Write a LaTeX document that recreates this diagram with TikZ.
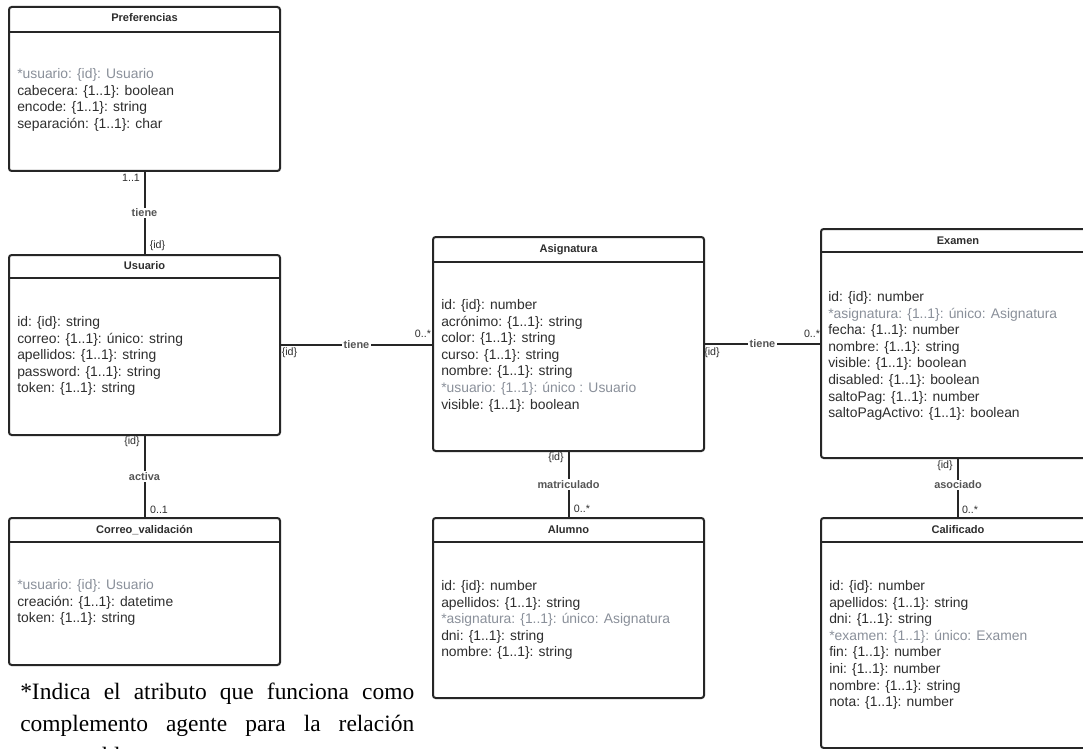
\documentclass[tikz,border=0pt]{standalone}
\usepackage{fontspec}
\setmainfont{Liberation Serif}
\setsansfont{Liberation Sans}
\usetikzlibrary{fit}
\definecolor{txt}{HTML}{2E2E2E}
\definecolor{gry}{HTML}{8A909A}
\definecolor{bord}{HTML}{262626}
\definecolor{lblc}{HTML}{555555}
\tikzset{
 cls/.style={draw=bord, line width=1.5pt, rounded corners=2pt, inner sep=0pt, outer sep=0pt, fill=white},
 hdr/.style={draw=bord, line width=1.5pt},
 ttl/.style={font=\sffamily\bfseries\fontsize{8.3}{10}\selectfont, text=txt, inner sep=0pt, anchor=base},
 attr/.style={font=\sffamily\fontsize{10.4}{12.5}\selectfont, text=txt, inner sep=0pt, anchor=base west},
 conn/.style={draw=bord, line width=1.5pt},
 lbl/.style={font=\sffamily\bfseries\fontsize{8.2}{10}\selectfont, text=lblc, fill=white, inner sep=1pt},
 mult/.style={font=\sffamily\fontsize{8}{10}\selectfont, text=txt, inner sep=0pt},
 foot/.style={font=\fontsize{17.6}{24}\selectfont, text=black, inner sep=0pt, anchor=base west},
}
\newcommand\gr[1]{\textcolor{gry}{#1}}
\newcommand\attrlist[4]{\foreach \t [count=\i] in {#4} {\node[attr] (#1-\i) at ({#2},{#3+(\i-1)*16.6}) {\t};}}
\begin{document}
\begin{tikzpicture}[x=0.75pt,y=-0.75pt]
\useasboundingbox (0,0) rectangle (1083,749);
\fill[white] (0,0) rectangle (1083,749);
\clip (0,0) rectangle (1083,749);

% ---------- Preferencias
\node[cls, fit={(9,7) (280,171)}] (pref) {};
\draw[hdr] (pref.west |- 0,32) -- (pref.east |- 0,32);
\node[ttl] (prefT) at (144.5,22) {Preferencias};
\attrlist{prefA}{17}{78.5}{{\gr{*usuario: \{id\}: Usuario}}, cabecera: \{1..1\}: boolean, encode: \{1..1\}: string, separación: \{1..1\}: char}

% ---------- Usuario
\node[cls, fit={(9,255) (280,435)}] (user) {};
\draw[hdr] (user.west |- 0,278) -- (user.east |- 0,278);
\node[ttl] (userT) at (144.5,269) {Usuario};
\attrlist{userA}{17}{326.5}{id: \{id\}: string, correo: \{1..1\}: único: string, apellidos: \{1..1\}: string, password: \{1..1\}: string, token: \{1..1\}: string}

% ---------- Correo_validacion
\node[cls, fit={(9,518) (280,665)}] (corr) {};
\draw[hdr] (corr.west |- 0,542) -- (corr.east |- 0,542);
\node[ttl] (corrT) at (144.5,533) {Correo\_validación};
\attrlist{corrA}{17}{589.5}{{\gr{*usuario: \{id\}: Usuario}}, creación: \{1..1\}: datetime, token: \{1..1\}: string}

% ---------- Asignatura
\node[cls, fit={(433,237) (704,451)}] (asig) {};
\draw[hdr] (asig.west |- 0,262) -- (asig.east |- 0,262);
\node[ttl] (asigT) at (568.5,252) {Asignatura};
\attrlist{asigA}{441}{309.5}{id: \{id\}: number, acrónimo: \{1..1\}: string, color: \{1..1\}: string, curso: \{1..1\}: string, nombre: \{1..1\}: string, {\gr{*usuario: \{1..1\}: único : Usuario}}, visible: \{1..1\}: boolean}

% ---------- Alumno
\node[cls, fit={(433,518) (704,698)}] (alum) {};
\draw[hdr] (alum.west |- 0,542) -- (alum.east |- 0,542);
\node[ttl] (alumT) at (568.5,533) {Alumno};
\attrlist{alumA}{441}{590.5}{id: \{id\}: number, apellidos: \{1..1\}: string, {\gr{*asignatura: \{1..1\}: único: Asignatura}}, dni: \{1..1\}: string, nombre: \{1..1\}: string}

% ---------- Examen
\node[cls, fit={(821,229) (1095,458)}] (exam) {};
\draw[hdr] (exam.west |- 0,252) -- (exam.east |- 0,252);
\node[ttl] (examT) at (958,244) {Examen};
\attrlist{examA}{828}{301.5}{id: \{id\}: number, {\gr{*asignatura: \{1..1\}: único: Asignatura}}, fecha: \{1..1\}: number, nombre: \{1..1\}: string, visible: \{1..1\}: boolean, disabled: \{1..1\}: boolean, saltoPag: \{1..1\}: number, saltoPagActivo: \{1..1\}: boolean}

% ---------- Calificado
\node[cls, fit={(821,518) (1095,748)}] (calif) {};
\draw[hdr] (calif.west |- 0,542) -- (calif.east |- 0,542);
\node[ttl] (califT) at (958,533) {Calificado};
\attrlist{califA}{829}{590.5}{id: \{id\}: number, apellidos: \{1..1\}: string, dni: \{1..1\}: string, {\gr{*examen: \{1..1\}: único: Examen}}, fin: \{1..1\}: number, ini: \{1..1\}: number, nombre: \{1..1\}: string, nota: \{1..1\}: number}

% ---------- Connectors
\draw[conn] (pref.south) -- (user.north) node[lbl, midway] (c1) {tiene};
\node[mult] (c1a) at (131,178) {1..1};
\node[mult] (c1b) at (157.5,246) {\{id\}};

\draw[conn] (user.south) -- (corr.north) node[lbl, midway] (c2) {activa};
\node[mult] (c2a) at (132,442) {\{id\}};
\node[mult] (c2b) at (159,510) {0..1};

\draw[conn] (user.east) -- (asig.west |- user.east) node[lbl, midway] (c3) {tiene};
\node[mult] (c3a) at (289.5,353) {\{id\}};
\node[mult] (c3b) at (423,334) {0..*};

\draw[conn] (asig.east) -- (exam.west |- asig.east) node[lbl, midway] (c4) {tiene};
\node[mult] (c4a) at (712,353) {\{id\}};
\node[mult] (c4b) at (812,334) {0..*};

\draw[conn] (asig.south) -- (alum.north) node[lbl, midway] (c5) {matriculado};
\node[mult] (c5a) at (556,458) {\{id\}};
\node[mult] (c5b) at (582,509) {0..*};

\draw[conn] (exam.south) -- (calif.north) node[lbl, pos=0.45] (c6) {asociado};
\node[mult] (c6a) at (945,466) {\{id\}};
\node[mult] (c6b) at (970,510) {0..*};

% ---------- Footnote
\node[foot] (fn1) at (20,699) {\makebox[295.5pt][s]{*Indica el atributo que funciona como}};
\node[foot] (fn2) at (20,731) {\makebox[295.5pt][s]{complemento agente para la relación}};
\node[foot] (fn3) at (20,763) {responsable.};
\end{tikzpicture}
\end{document}
